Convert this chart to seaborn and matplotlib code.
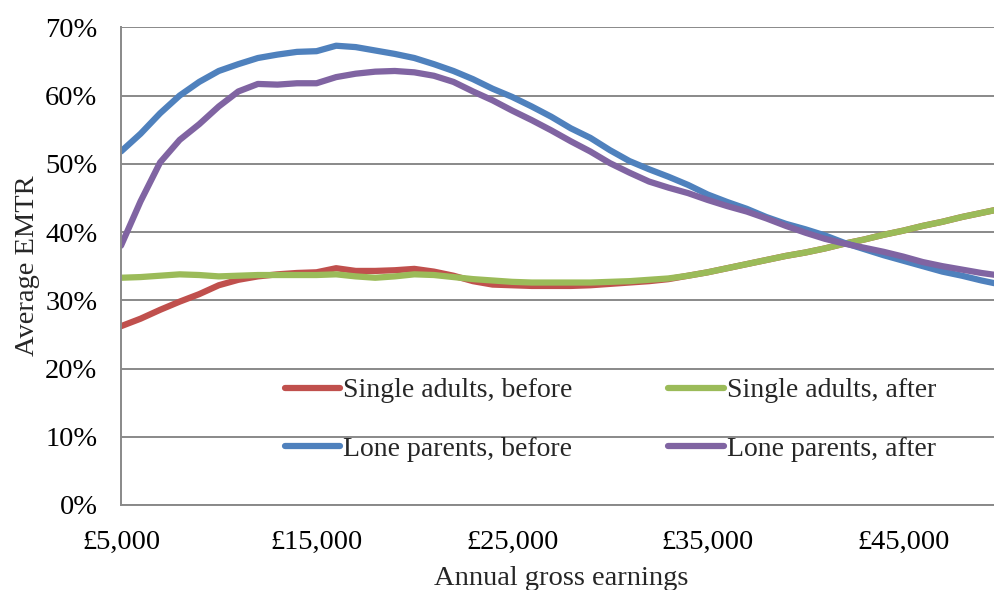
import numpy as np
import pandas as pd
import matplotlib
matplotlib.use("Agg")
import matplotlib.pyplot as plt
import matplotlib.ticker as mtick
from matplotlib.lines import Line2D
import seaborn as sns

# Rendimento bruto anual (£), de 1000 em 1000
earnings = list(range(5000, 50001, 1000))

# Taxa marginal efectiva média (%)
single_before = [26.2, 27.3, 28.6, 29.8, 30.9, 32.2, 33.0, 33.5, 33.8, 34.0,
                 34.1, 34.7, 34.3, 34.3, 34.4, 34.6, 34.2, 33.6, 32.8, 32.3,
                 32.2, 32.1, 32.1, 32.1, 32.2, 32.4, 32.6, 32.8, 33.1, 33.6,
                 34.1, 34.7, 35.3, 35.9, 36.5, 37.0, 37.6, 38.3, 38.9, 39.6,
                 40.2, 40.9, 41.5, 42.2, 42.8, 43.4]
single_after = [33.3, 33.4, 33.6, 33.8, 33.7, 33.5, 33.6, 33.7, 33.7, 33.7,
                33.7, 33.8, 33.5, 33.3, 33.5, 33.8, 33.7, 33.4, 33.1, 32.9,
                32.7, 32.6, 32.6, 32.6, 32.6, 32.7, 32.8, 33.0, 33.2, 33.6,
                34.1, 34.7, 35.3, 35.9, 36.5, 37.0, 37.6, 38.3, 38.9, 39.6,
                40.2, 40.9, 41.5, 42.2, 42.8, 43.4]
lone_before = [51.8, 54.4, 57.4, 60.0, 62.0, 63.6, 64.6, 65.5, 66.0, 66.4,
               66.5, 67.3, 67.1, 66.6, 66.1, 65.5, 64.6, 63.6, 62.4, 61.0,
               59.8, 58.4, 56.9, 55.2, 53.8, 52.0, 50.4, 49.2, 48.1, 46.9,
               45.5, 44.4, 43.4, 42.2, 41.2, 40.4, 39.5, 38.4, 37.5, 36.6,
               35.8, 35.0, 34.2, 33.6, 32.9, 32.3]
lone_after = [38.0, 44.5, 50.2, 53.5, 55.8, 58.4, 60.6, 61.7, 61.6, 61.8,
              61.8, 62.7, 63.2, 63.5, 63.6, 63.4, 62.9, 62.0, 60.6, 59.3,
              57.8, 56.4, 54.9, 53.3, 51.8, 50.1, 48.7, 47.4, 46.5, 45.7,
              44.7, 43.8, 43.0, 42.0, 40.9, 39.9, 39.0, 38.3, 37.7, 37.1,
              36.4, 35.6, 35.0, 34.5, 34.0, 33.6]

series = {
    "Single adults, before": single_before,
    "Single adults, after": single_after,
    "Lone parents, before": lone_before,
    "Lone parents, after": lone_after,
}
cores = {
    "Single adults, before": "#C0504D",
    "Single adults, after": "#9BBB59",
    "Lone parents, before": "#4F81BD",
    "Lone parents, after": "#8064A2",
}

df = pd.concat([
    pd.DataFrame({"earnings": earnings, "emtr": vals, "grupo": nome})
    for nome, vals in series.items()
])

sns.set_style("white")
plt.rcParams["font.family"] = ["Liberation Serif", "DejaVu Serif"]

fig = plt.figure(figsize=(9.94, 5.90), dpi=100)
ax = fig.add_axes([121 / 994, 85 / 590, 880 / 994, 477.7 / 590])

sns.lineplot(data=df, x="earnings", y="emtr", hue="grupo", palette=cores,
             hue_order=list(series.keys()), linewidth=4.5, ax=ax, legend=False)
for ln in ax.get_lines():
    ln.set_solid_joinstyle("round")
    ln.set_solid_capstyle("round")

ax.set_xlim(5000, 50000)
ax.set_ylim(0, 70)
ax.set_xticks([5000, 15000, 25000, 35000, 45000])
ax.set_yticks(range(0, 71, 10))
ax.xaxis.set_major_formatter(mtick.FuncFormatter(lambda v, p: f"£{int(v):,}"))
ax.yaxis.set_major_formatter(mtick.FuncFormatter(lambda v, p: f"{int(v)}%"))
ax.grid(axis="y", color="#898989", linewidth=1.4)
ax.set_axisbelow(True)
for s in ["top", "right"]:
    ax.spines[s].set_visible(False)
for s in ["left", "bottom"]:
    ax.spines[s].set_color("#898989")
    ax.spines[s].set_linewidth(1.4)
ax.tick_params(axis="both", direction="out", length=6, width=1.4,
               color="#898989", labelsize=20.5, labelcolor="black")
ax.tick_params(axis="y", pad=11)
ax.tick_params(axis="x", pad=12)
ax.set_xlabel("Annual gross earnings", fontsize=20.5, labelpad=8)
ax.set_ylabel("Average EMTR", fontsize=20.5, labelpad=4)

# legenda em duas linhas: before/after lado a lado
ordem = ["Single adults, before", "Lone parents, before",
         "Single adults, after", "Lone parents, after"]
handles = [Line2D([], [], color=cores[n], linewidth=4.5) for n in ordem]
ax.legend(handles, ordem, loc="upper left", bbox_to_anchor=(0.186, 0.266),
          ncol=2, frameon=False, fontsize=20, handlelength=2.0,
          handletextpad=0.1, columnspacing=3.45, labelspacing=1.2,
          borderpad=0, borderaxespad=0)

fig.savefig("out.png", dpi=100)
